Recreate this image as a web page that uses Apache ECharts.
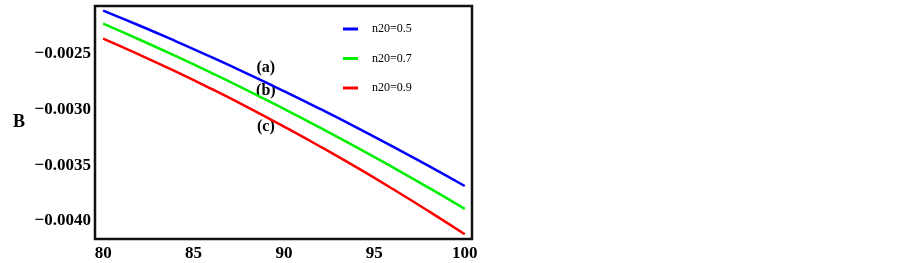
<!DOCTYPE html>
<html>
<head>
<meta charset="utf-8">
<script src="https://cdn.jsdelivr.net/npm/echarts@6/dist/echarts.min.js"></script>
<style>
  html, body { margin: 0; padding: 0; background: #fff; }
  #chart { width: 902px; height: 263px; }
</style>
</head>
<body>
<div id="chart"></div>
<script>
// x values (temperature-like axis)
var xs = [80, 82, 84, 86, 88, 90, 92, 94, 96, 98, 100];
var seriesNames = ['n20=0.5', 'n20=0.7', 'n20=0.9'];
// B values
var bA = [-0.002110, -0.002244, -0.002384, -0.002529, -0.002679, -0.002834, -0.002994, -0.003159, -0.003330, -0.003505, -0.003686];
var bB = [-0.002227, -0.002370, -0.002518, -0.002671, -0.002829, -0.002993, -0.003162, -0.003336, -0.003516, -0.003701, -0.003891];
var bC = [-0.002362, -0.002506, -0.002656, -0.002814, -0.002979, -0.003152, -0.003331, -0.003517, -0.003711, -0.003912, -0.004120];
var xTicks = [80, 85, 90, 95, 100];
var yTicks = [-0.0040, -0.0035, -0.0030, -0.0025];
// curve tags (a),(b),(c)
var tags = [['(a)', 89.0, -0.002623], ['(b)', 89.0, -0.002831], ['(c)', 89.0, -0.003155]];

var colors = ['#0000ff', '#00ee00', '#ff0000'];
var serif = "'Liberation Serif', 'DejaVu Serif', serif";

function pairs(ys) {
  return xs.map(function (x, i) { return [x, ys[i]]; });
}

var chart = echarts.init(document.getElementById('chart'), null, { renderer: 'canvas' });

var option = {
  animation: false,
  backgroundColor: '#fff',
  grid: {
    left: 95, top: 6, right: 430, bottom: 24,
    show: true, borderColor: '#111', borderWidth: 2.5, backgroundColor: 'transparent'
  },
  legend: {
    orient: 'vertical',
    left: 338, top: 17,
    itemWidth: 15, itemHeight: 3, itemGap: 15.5,
    icon: 'rect',
    data: seriesNames,
    textStyle: { fontFamily: serif, fontSize: 12, color: '#000', lineHeight: 14, padding: [0, 0, 0, 9] }
  },
  xAxis: {
    type: 'value',
    min: 79.55, max: 100.4,
    axisLine: { show: false },
    axisTick: { show: false },
    splitLine: { show: false },
    axisLabel: {
      customValues: xTicks,
      margin: 6,
      fontFamily: serif, fontWeight: 'bold', fontSize: 17, color: '#000'
    }
  },
  yAxis: {
    type: 'value',
    min: -0.004162, max: -0.002069,
    name: 'B',
    nameLocation: 'middle',
    nameRotate: 0,
    nameGap: 70,
    nameTextStyle: { fontFamily: serif, fontWeight: 'bold', fontSize: 18, color: '#000' },
    axisLine: { show: false },
    axisTick: { show: false },
    splitLine: { show: false },
    axisLabel: {
      customValues: yTicks,
      margin: 4,
      fontFamily: serif, fontWeight: 'bold', fontSize: 17, color: '#000',
      formatter: function (v) { return '\u2212' + Math.abs(v).toFixed(4); }
    }
  },
  series: [
    { name: seriesNames[0], type: 'line', data: pairs(bA), showSymbol: false, smooth: true,
      lineStyle: { width: 2.5, color: colors[0] }, itemStyle: { color: colors[0] } },
    { name: seriesNames[1], type: 'line', data: pairs(bB), showSymbol: false, smooth: true,
      lineStyle: { width: 2.5, color: colors[1] }, itemStyle: { color: colors[1] } },
    { name: seriesNames[2], type: 'line', data: pairs(bC), showSymbol: false, smooth: true,
      lineStyle: { width: 2.5, color: colors[2] }, itemStyle: { color: colors[2] } },
    {
      type: 'scatter',
      symbolSize: 0,
      silent: true,
      itemStyle: { opacity: 1, color: '#000' },
      data: tags.map(function (t) { return { value: [t[1], t[2]], name: t[0] }; }),
      label: {
        show: true, position: 'inside', opacity: 1,
        formatter: function (p) { return p.name; },
        fontFamily: serif, fontWeight: 'bold', fontSize: 16, color: '#000',
        textBorderWidth: 0
      }
    }
  ]
};

chart.setOption(option);
</script>
</body>
</html>
